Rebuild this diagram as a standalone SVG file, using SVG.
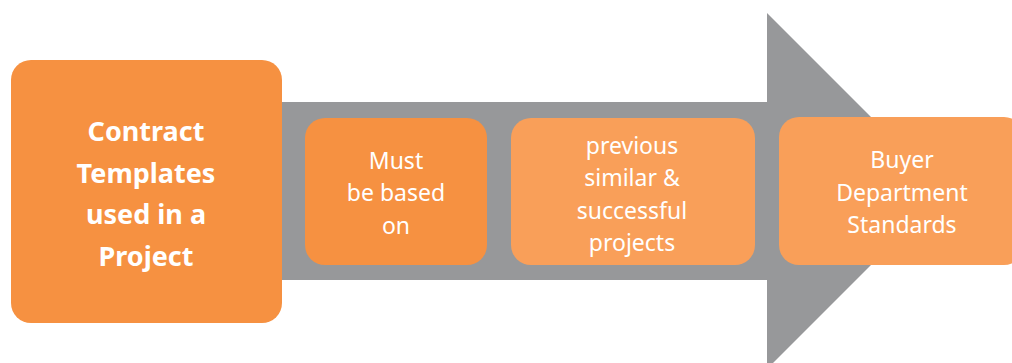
<svg xmlns="http://www.w3.org/2000/svg" width="1012" height="363" viewBox="0 0 1012 363">
<style>
.t{font-family:"Noto Sans","Open Sans",sans-serif;fill:#fff;text-anchor:middle;dominant-baseline:central}
.b{font-weight:bold;font-size:27px}
.n{font-size:23px}
</style>
<rect width="1012" height="363" fill="#fff"/>
<g id="connectors">
<polygon points="270,102 767,102 767,13 945,191 767,369 767,280 270,280" fill="#97989a"/>
</g>
<g id="n1">
<rect x="11" y="60" width="271" height="263" rx="20" fill="#f69141"/>
<text class="t b" x="146" y="130">Contract</text>
<text class="t b" x="146" y="172">Templates</text>
<text class="t b" x="146" y="213">used in a</text>
<text class="t b" x="146" y="255">Project</text>
</g>
<g id="n2">
<rect x="305" y="118" width="182" height="147" rx="20" fill="#f69141"/>
<text class="t n" x="396" y="160">Must</text>
<text class="t n" x="396" y="192">be based</text>
<text class="t n" x="396" y="225">on</text>
</g>
<g id="n3">
<rect x="511" y="118" width="244" height="147" rx="20" fill="#f99f59"/>
<text class="t n" x="632" y="145">previous</text>
<text class="t n" x="632" y="177">similar &amp;</text>
<text class="t n" x="632" y="210">successful</text>
<text class="t n" x="632" y="242">projects</text>
</g>
<g id="n4">
<rect x="779" y="117" width="245" height="148" rx="20" fill="#f99f59"/>
<text class="t n" x="902" y="159">Buyer</text>
<text class="t n" x="902" y="192">Department</text>
<text class="t n" x="902" y="224">Standards</text>
</g>
</svg>
